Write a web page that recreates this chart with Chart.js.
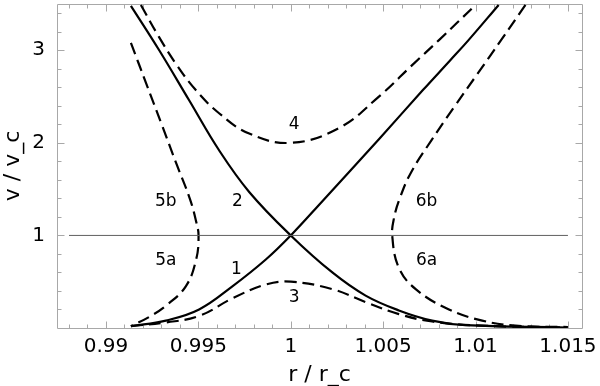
<!DOCTYPE html>
<html>
<head>
<meta charset="utf-8">
<script src="https://cdn.jsdelivr.net/npm/chart.js@4.4.1/dist/chart.umd.min.js"></script>
<style>
  html, body { margin: 0; padding: 0; background: #fff; }
  canvas { display: block; }
</style>
</head>
<body>
<canvas id="chart" width="600" height="386"></canvas>
<script>
// axis ticks
const xTicks = [0.99, 0.995, 1, 1.005, 1.01, 1.015];
const xTickLabels = ["0.99", "0.995", "1", "1.005", "1.01", "1.015"];
const xMinorTicks = [0.988, 0.989, 0.991, 0.992, 0.993, 0.994, 0.996, 0.997, 0.998, 0.999,
  1.001, 1.002, 1.003, 1.004, 1.006, 1.007, 1.008, 1.009, 1.011, 1.012, 1.013, 1.014];
const yTicks = [1, 2, 3];
const yTickLabels = ["1", "2", "3"];
const yMinorTicks = [0.2, 0.4, 0.6, 0.8, 1.2, 1.4, 1.6, 1.8, 2.2, 2.4, 2.6, 2.8, 3.2, 3.4];

// solution curves, [r/r_c, v/v_c]
const curve1 = [[0.99135, 0.02], [0.99324, 0.08], [0.99504, 0.20], [0.99684, 0.45], [0.99865, 0.74],
  [1, 1], [1.00171, 1.37], [1.00477, 2.04], [1.00715, 2.57], [1.00862, 2.89], [1.00962, 3.11], [1.01125, 3.49]];
const curve2 = [[0.99135, 3.48], [0.99288, 3.00], [0.99450, 2.46], [0.99612, 1.92], [0.99775, 1.47],
  [1, 1], [1.00225, 0.60], [1.00405, 0.35], [1.00585, 0.19], [1.00765, 0.08], [1.00946, 0.03], [1.01494, 0.005]];
const curve3 = [[0.99135, 0.02], [0.99324, 0.06], [0.99504, 0.13], [0.99684, 0.32], [0.99865, 0.47],
  [1, 0.5], [1.00225, 0.42], [1.00405, 0.28], [1.00585, 0.15], [1.00765, 0.07], [1.01036, 0.025], [1.01494, 0.005]];
const curve4 = [[0.99189, 3.49], [0.99285, 3.15], [0.99380, 2.85], [0.99486, 2.57], [0.99612, 2.32],
  [0.99775, 2.10], [1, 2], [1.00261, 2.16], [1.00477, 2.50], [1.00657, 2.84], [1.00802, 3.11], [1.01, 3.49]];
const curve5 = [[0.99135, 3.08], [0.99218, 2.64], [0.99305, 2.18], [0.99380, 1.78], [0.99455, 1.39],
  [0.99488, 1.15], [0.99501, 1], [0.99488, 0.74], [0.99432, 0.45], [0.99324, 0.24], [0.99234, 0.12], [0.99135, 0.02]];
const curve6 = [[1.01270, 3.49], [1.01138, 3.11], [1.01012, 2.75], [1.00885, 2.39], [1.00762, 2.03],
  [1.00648, 1.67], [1.00588, 1.39], [1.00560, 1.2], [1.00549, 1], [1.00585, 0.65], [1.00676, 0.42],
  [1.00856, 0.20], [1.01036, 0.08], [1.01216, 0.025], [1.0150, 0.01]];
const sonicLine = [[0.988, 1], [1.015, 1]];

// curve names and where they sit
const curveNames = ["1", "2", "3", "4", "5a", "5b", "6a", "6b"];
const nameR = [0.99706, 0.99711, 1.00018, 1.00018, 0.99324, 0.99324, 1.00735, 1.00735];
const nameV = [0.63, 1.37, 0.33, 2.20, 0.73, 1.37, 0.73, 1.37];

const FONT = "'DejaVu Sans', sans-serif";
const pts = (a) => a.map(([x, y]) => ({ x, y }));

function curve(data, dashed) {
  return {
    data: pts(data), showLine: true, borderColor: "#000", borderWidth: 2.2,
    borderDash: dashed ? [12, 6] : [], pointRadius: 0, tension: 0.4, fill: false,
  };
}

function fixBox(s, w, h) {
  if (w) s.width = w;
  if (h) s.height = h;
  s.paddingTop = s.paddingBottom = s.paddingLeft = s.paddingRight = 0;
}

const frame = {
  id: "frame",
  beforeDatasetsDraw(chart) {
    const { ctx, chartArea: a, scales: { x, y } } = chart;
    const L = Math.round(a.left) + 0.5, R = Math.round(a.right) + 0.5;
    const T = Math.round(a.top) + 0.5, B = Math.round(a.bottom) + 0.5;
    ctx.save();
    ctx.strokeStyle = "#a8a8a8";
    ctx.lineWidth = 1;
    ctx.beginPath();
    ctx.rect(L, T, R - L, B - T);
    const xt = (v, len) => {
      const p = Math.round(x.getPixelForValue(v)) + 0.5;
      ctx.moveTo(p, B); ctx.lineTo(p, B - len);
      ctx.moveTo(p, T); ctx.lineTo(p, T + len);
    };
    const yt = (v, len) => {
      const p = Math.round(y.getPixelForValue(v)) + 0.5;
      ctx.moveTo(L, p); ctx.lineTo(L + len, p);
      ctx.moveTo(R, p); ctx.lineTo(R - len, p);
    };
    xTicks.forEach((v) => xt(v, 7));
    xMinorTicks.forEach((v) => xt(v, 4));
    yTicks.forEach((v) => yt(v, 7));
    yMinorTicks.forEach((v) => yt(v, 4));
    ctx.stroke();
    ctx.restore();
  },
  afterDatasetsDraw(chart) {
    const { ctx, scales: { x, y } } = chart;
    ctx.save();
    ctx.fillStyle = "#000";
    ctx.font = "17px " + FONT;
    ctx.textAlign = "center";
    ctx.textBaseline = "middle";
    curveNames.forEach((t, i) => ctx.fillText(t, x.getPixelForValue(nameR[i]), y.getPixelForValue(nameV[i])));
    ctx.restore();
  },
};

new Chart(document.getElementById("chart"), {
  type: "scatter",
  data: {
    datasets: [
      { data: pts(sonicLine), showLine: true, borderColor: "#606060", borderWidth: 1, pointRadius: 0 },
      curve(curve1, false),
      curve(curve2, false),
      curve(curve3, true),
      curve(curve4, true),
      curve(curve5, true),
      curve(curve6, true),
    ],
  },
  options: {
    responsive: false, animation: false, events: [],
    layout: { padding: { top: 4, right: 18, left: 0, bottom: 0 } },
    plugins: { legend: { display: false }, tooltip: { enabled: false } },
    scales: {
      x: {
        type: "linear", min: 0.98735, max: 1.01576,
        afterBuildTicks: (s) => { s.ticks = xTicks.map((value) => ({ value })); },
        afterFit: (s) => fixBox(s, 0, 58),
        ticks: { callback: (v, i) => xTickLabels[i], color: "#000", padding: 7, maxRotation: 0,
          autoSkip: false, font: { family: FONT, size: 20 } },
        grid: { display: false, drawTicks: false }, border: { display: false },
        title: { display: true, text: "r / r_c", color: "#000", padding: { top: 0, bottom: 1 },
          font: { family: FONT, size: 22, lineHeight: 0.85 } },
      },
      y: {
        type: "linear", min: 0, max: 3.5,
        afterBuildTicks: (s) => { s.ticks = yTicks.map((value) => ({ value })); },
        afterFit: (s) => fixBox(s, 57, 0),
        ticks: { callback: (v, i) => yTickLabels[i], color: "#000", padding: 12,
          autoSkip: false, font: { family: FONT, size: 20 } },
        grid: { display: false, drawTicks: false }, border: { display: false },
        title: { display: true, text: "v / v_c", color: "#000", padding: { top: 4, bottom: 0 },
          font: { family: FONT, size: 22, lineHeight: 0.85 } },
      },
    },
  },
  plugins: [frame],
});
</script>
</body>
</html>
